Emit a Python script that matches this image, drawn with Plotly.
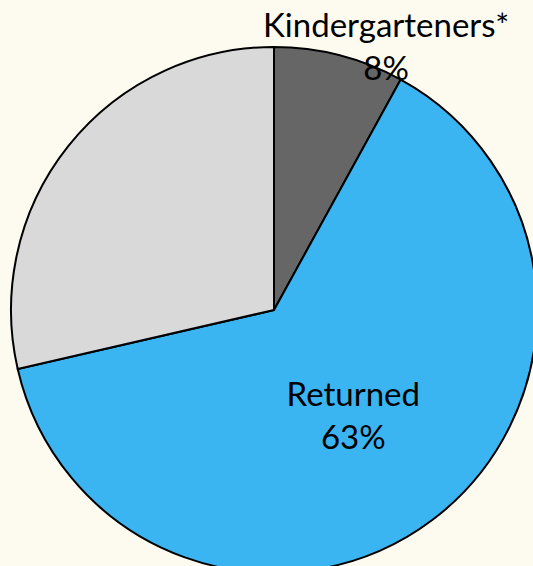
import plotly.graph_objects as go

labels = ["Kindergarteners*", "Returned", "Other"]
values = [8.0, 63.4, 28.6]
colors = ["#666666", "#3bb4f2", "#d9d9d9"]
texts = ["", "Returned<br>63%", ""]

W, H = 540, 575
cx, cy, r = 274, 310, 263

fig = go.Figure(go.Pie(
    labels=labels,
    values=values,
    sort=False,
    direction="clockwise",
    rotation=0,
    marker=dict(colors=colors, line=dict(color="black", width=2)),
    text=texts,
    textinfo="text",
    textposition="inside",
    insidetextorientation="horizontal",
    textfont=dict(family="Lato", size=33, color="black"),
    domain=dict(x=[(cx - r) / W, (cx + r) / W], y=[1 - (cy + r) / H, 1 - (cy - r) / H]),
    showlegend=False,
    hoverinfo="label+percent",
))

fig.add_annotation(
    text="Kindergarteners*<br>8%",
    x=386 / W, y=1 - 2 / H, xref="paper", yref="paper",
    xanchor="center", yanchor="top", showarrow=False,
    font=dict(family="Lato", size=33, color="black"),
)

fig.update_layout(
    width=W, height=H,
    margin=dict(l=0, r=0, t=0, b=0),
    paper_bgcolor="#fdfbf0",
    plot_bgcolor="#fdfbf0",
)

fig.write_html(
    "out.html",
    config={"displayModeBar": False},
    post_script="document.body.style.margin='0';document.body.style.overflow='hidden';document.body.style.background='#fdfbf0';",
)
